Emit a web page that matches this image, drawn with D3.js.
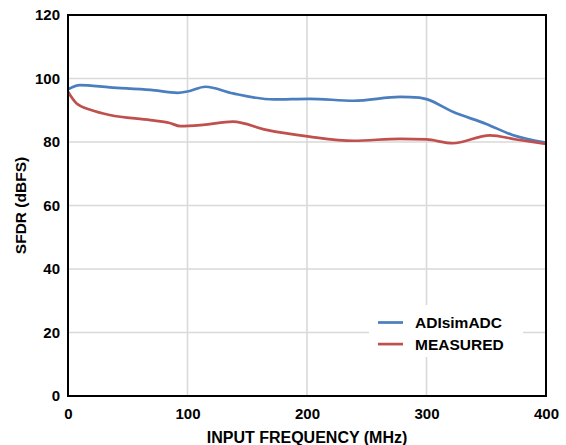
<!DOCTYPE html>
<html>
<head>
<meta charset="utf-8">
<script src="https://cdn.jsdelivr.net/npm/d3@7"></script>
<style>
  html, body { margin: 0; padding: 0; background: #fff; }
  svg { display: block; font-family: "Liberation Sans", Arial, Helvetica, sans-serif; font-weight: bold; }
</style>
</head>
<body>
<svg id="chart" width="566" height="445"></svg>
<script>
// SFDR vs input frequency
const simFreq = [0, 10, 35, 69, 92, 100, 115, 138, 172, 202, 239, 278, 294, 300, 322, 350, 372, 400];
const simSfdr = [96.6, 97.9, 97.2, 96.4, 95.5, 95.9, 97.4, 95.3, 93.4, 93.6, 93.0, 94.2, 94.0, 93.5, 89.5, 85.7, 82.2, 79.8];
const measFreq = [0, 7, 20, 35, 69, 85, 94, 113, 138, 166, 202, 239, 278, 300, 322, 353, 375, 400];
const measSfdr = [95.8, 92.2, 90.0, 88.5, 86.9, 86.0, 85.0, 85.4, 86.4, 83.8, 81.7, 80.4, 81.0, 80.8, 79.6, 82.1, 80.8, 79.4];
const xTicks = [0, 100, 200, 300, 400];
const yTicks = [0, 20, 40, 60, 80, 100, 120];
const seriesNames = ["ADIsimADC", "MEASURED"];
const seriesColors = ["#4a7ebf", "#c0504d"];

const svg = d3.select("#chart");
const plotL = 68, plotR = 546, plotT = 15, plotB = 396;

const x = d3.scaleLinear().domain([0, 400]).range([plotL, plotR]);
const y = d3.scaleLinear().domain([0, 120]).range([plotB, plotT]);

// grid
const grid = svg.append("g").attr("stroke", "#d9d9d9").attr("stroke-width", 1.6);
xTicks.slice(1, -1).forEach(t => grid.append("line")
  .attr("x1", x(t)).attr("x2", x(t)).attr("y1", plotT).attr("y2", plotB));
yTicks.slice(1, -1).forEach(t => grid.append("line")
  .attr("x1", plotL).attr("x2", plotR).attr("y1", y(t)).attr("y2", y(t)));

// series
const line = d3.line().x(d => x(d[0])).y(d => y(d[1])).curve(d3.curveMonotoneX);
const series = [
  d3.zip(simFreq, simSfdr),
  d3.zip(measFreq, measSfdr)
];
series.forEach((s, i) => svg.append("path")
  .datum(s)
  .attr("fill", "none")
  .attr("stroke", seriesColors[i])
  .attr("stroke-width", 2.7)
  .attr("stroke-linejoin", "round")
  .attr("d", line));

// frame
svg.append("rect")
  .attr("x", plotL).attr("y", plotT)
  .attr("width", plotR - plotL).attr("height", plotB - plotT)
  .attr("fill", "none").attr("stroke", "#000").attr("stroke-width", 2);

// axes
const xAxis = svg.append("g").attr("transform", `translate(0,${plotB})`)
  .call(d3.axisBottom(x).tickValues(xTicks).tickSize(0).tickPadding(12));
const yAxis = svg.append("g").attr("transform", `translate(${plotL},0)`)
  .call(d3.axisLeft(y).tickValues(yTicks).tickSize(0).tickPadding(8));
[xAxis, yAxis].forEach(a => {
  a.select(".domain").remove();
  a.selectAll("text").attr("font-size", 15).attr("font-weight", "bold")
    .attr("font-family", "Liberation Sans, Arial, sans-serif").attr("fill", "#000");
});

// axis titles
svg.append("text")
  .attr("x", (plotL + plotR) / 2).attr("y", 443)
  .attr("text-anchor", "middle").attr("font-size", 16).attr("fill", "#000")
  .text("INPUT FREQUENCY (MHz)");
svg.append("text")
  .attr("transform", `translate(26,${(plotT + plotB) / 2}) rotate(-90)`)
  .attr("text-anchor", "middle").attr("font-size", 15.5).attr("fill", "#000")
  .text("SFDR (dBFS)");

// legend
const legend = svg.append("g");
legend.append("rect")
  .attr("x", 369).attr("y", 305).attr("width", 154).attr("height", 52)
  .attr("fill", "#fff");
seriesNames.forEach((name, i) => {
  const ly = 322.5 + i * 21.6;
  legend.append("line")
    .attr("x1", 378).attr("x2", 403).attr("y1", ly).attr("y2", ly)
    .attr("stroke", seriesColors[i]).attr("stroke-width", 2.7);
  legend.append("text")
    .attr("x", 415).attr("y", ly + 5.6)
    .attr("font-size", 15.5).attr("fill", "#000")
    .text(name);
});
</script>
</body>
</html>
